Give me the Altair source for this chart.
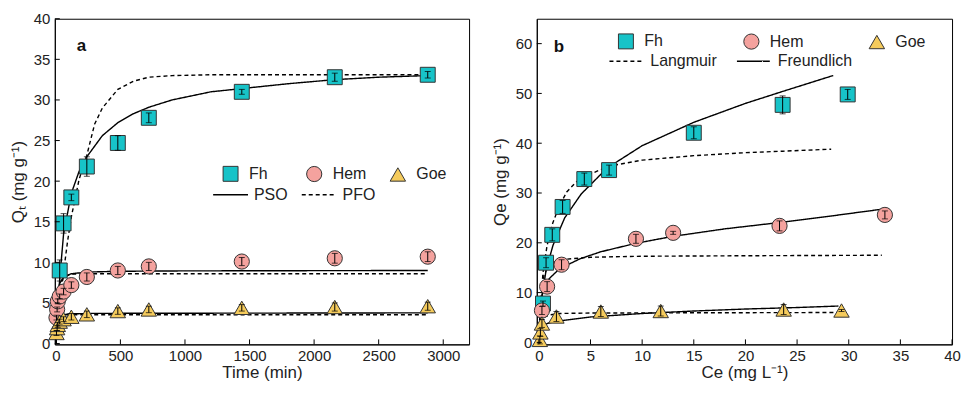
import altair as alt
import pandas as pd

# ---------------- Panel a : kinetics ----------------
fh_t = [30, 60, 120, 240, 480, 720, 1440, 2160, 2880]
fh_qt = [9.0, 14.8, 18.0, 21.8, 24.7, 27.8, 31.0, 32.8, 33.1]
fh_qt_err = [1.3, 1.2, 0.4, 1.2, 0.9, 0.6, 0.3, 0.5, 0.4]

hem_t = [5, 10, 15, 30, 60, 120, 240, 480, 720, 1440, 2160, 2880]
hem_qt = [3.2, 4.2, 5.2, 5.8, 6.4, 7.2, 8.2, 9.0, 9.5, 10.1, 10.5, 10.7]
hem_qt_err = [0.3, 0.3, 0.3, 0.3, 0.4, 0.4, 0.5, 0.5, 0.5, 0.5, 0.6, 0.6]

goe_t = [5, 10, 15, 30, 60, 120, 240, 480, 720, 1440, 2160, 2880]
goe_qt = [1.3, 1.9, 2.3, 2.7, 3.0, 3.3, 3.6, 4.0, 4.2, 4.4, 4.5, 4.6]
goe_qt_err = [0.3, 0.3, 0.3, 0.3, 0.3, 0.4, 0.4, 0.4, 0.4, 0.4, 0.5, 0.5]

pso_fh_t = [0, 15, 30, 60, 120, 180, 240, 360, 480, 600, 720, 900, 1200, 1440, 1800, 2160, 2500, 2880]
pso_fh_q = [0, 4.5, 8.0, 13.5, 18.5, 21.2, 23.0, 25.6, 27.2, 28.3, 29.1, 30.0, 31.0, 31.4, 32.0, 32.5, 32.8, 33.0]
pfo_fh_t = [0, 30, 60, 90, 120, 180, 240, 300, 360, 480, 600, 720, 900, 1200, 1800, 2880]
pfo_fh_q = [0, 4.5, 8.8, 12.5, 15.6, 20.2, 23.2, 27.0, 29.0, 31.3, 32.3, 32.8, 33.0, 33.1, 33.1, 33.1]
pso_hem_t = [0, 5, 10, 20, 30, 60, 120, 240, 480, 1000, 2880]
pso_hem_q = [0, 3.5, 5.2, 6.7, 7.4, 8.2, 8.6, 8.8, 8.9, 8.95, 9.0]
pfo_hem_t = [0, 5, 10, 20, 30, 60, 120, 240, 2880]
pfo_hem_q = [0, 2.2, 3.9, 6.0, 7.1, 8.2, 8.55, 8.6, 8.6]
pso_goe_t = [0, 5, 10, 20, 40, 100, 300, 2880]
pso_goe_q = [0, 2.0, 2.7, 3.2, 3.5, 3.65, 3.72, 3.78]
pfo_goe_t = [0, 5, 10, 20, 40, 100, 2880]
pfo_goe_q = [0, 1.7, 2.6, 3.2, 3.45, 3.55, 3.55]

# ---------------- Panel b : isotherms ----------------
fh_ce = [0.4, 0.7, 1.3, 2.3, 4.4, 6.8, 15.0, 23.6, 29.9]
fh_qe = [7.8, 16.0, 21.6, 27.2, 32.8, 34.6, 42.1, 47.7, 49.8]
fh_qe_err = [0.5, 1.0, 1.2, 1.3, 1.2, 1.0, 1.2, 1.8, 1.0]
hem_ce = [0.3, 0.8, 2.2, 9.4, 13.0, 23.3, 33.5]
hem_qe = [6.4, 11.2, 15.6, 20.8, 22.0, 23.4, 25.6]
hem_qe_err = [0.8, 1.0, 1.0, 0.9, 0.3, 1.0, 0.8]
goe_ce = [0.1, 0.15, 0.3, 1.7, 6.0, 11.8, 23.7, 29.3]
goe_qe = [0.5, 2.0, 3.8, 5.2, 6.2, 6.3, 6.6, 6.4]
goe_qe_err = [0.8, 0.8, 0.8, 1.0, 1.0, 1.0, 1.0, 0.2]

lang_fh_ce = [0.05, 0.1, 0.4, 0.8, 1.35, 2.0, 2.7, 3.6, 4.4, 6.8, 10, 15, 20, 23.6, 28.3]
lang_fh_qe = [3, 5, 14, 19.5, 24, 27.5, 30.2, 32.2, 33.3, 35.4, 36.6, 37.5, 38.1, 38.4, 38.8]
freu_fh_ce = [0.1, 0.3, 0.7, 1.37, 2.5, 4.1, 6.6, 10, 15, 20, 23.6, 28.5]
freu_fh_qe = [3.0, 9.0, 14.5, 19.5, 25.0, 29.8, 35.0, 39.5, 44.2, 48.0, 50.4, 53.6]
lang_hem_ce = [0.05, 0.2, 0.5, 1, 2, 5, 10, 20, 33.2]
lang_hem_qe = [3, 9, 13.5, 15.7, 16.6, 17.1, 17.3, 17.4, 17.5]
freu_hem_ce = [0.15, 0.3, 0.5, 1, 2, 4, 6, 9.4, 13, 18, 23, 28, 33.4]
freu_hem_qe = [7.5, 9.5, 11.0, 12.8, 14.8, 16.8, 18.2, 19.9, 21.3, 22.8, 24.0, 25.3, 26.8]
lang_goe_ce = [0.05, 0.2, 0.5, 1, 2, 5, 29]
lang_goe_qe = [1.0, 3.5, 5.0, 5.5, 5.8, 5.9, 6.0]
freu_goe_ce = [0.1, 0.5, 1, 2, 5, 10, 15, 20, 25, 29]
freu_goe_qe = [2.8, 3.6, 3.9, 4.3, 5.1, 5.8, 6.3, 6.7, 7.0, 7.3]

minerals = ["Fh", "Hem", "Goe"]
fills = ["#17C3C8", "#F4A29E", "#F5CB5C"]
shapes = ["square", "circle", "triangle-up"]
sizes = [225, 240, 400]

a_xticks = [0, 500, 1000, 1500, 2000, 2500, 3000]
a_yticks = [0, 5, 10, 15, 20, 25, 30, 35, 40]
b_xticks = [0, 5, 10, 15, 20, 25, 30, 35, 40]
b_yticks = [0, 10, 20, 30, 40, 50, 60]

FONT = "Liberation Sans"
SOLID = [1, 0]
DASH = [4, 3]


def points_df(series):
    rows = []
    for name, xs, ys, es in series:
        for x, y, e in zip(xs, ys, es):
            rows.append({"mineral": name, "x": x, "y": y, "lo": y - e, "hi": y + e})
    return pd.DataFrame(rows)


def lines_df(series):
    rows = []
    for name, model, xs, ys in series:
        for i, (x, y) in enumerate(zip(xs, ys)):
            rows.append({"mineral": name, "model": model, "x": x, "y": y, "i": i})
    return pd.DataFrame(rows)


def panel(pts, lns, xdom, ydom, xticks, yticks, xtitle, ytitle, models, dashes, W, H,
          leg1, leg2, label, labpos):
    xs = alt.Scale(domain=xdom, nice=False, zero=False)
    ys = alt.Scale(domain=ydom, nice=False, zero=False)
    xa = alt.Axis(values=xticks, ticks=False, grid=False, labelPadding=4, format="d",
                  title=xtitle, titlePadding=1, domainColor="black", labelFlush=False,
                  labelOverlap=False, labelFontSize=15, titleFontSize=17,
                  titleFontWeight="normal", labelFont=FONT, titleFont=FONT,
                  labelColor="#222", titleColor="#222")
    ya = alt.Axis(values=yticks, ticks=False, grid=False, labelPadding=5, format="d",
                  title=ytitle, titlePadding=6, domainColor="black", labelOverlap=False,
                  labelFontSize=15, titleFontSize=17, titleFontWeight="normal",
                  labelFont=FONT, titleFont=FONT, labelColor="#222", titleColor="#222")

    def X(f):
        return alt.X(f, type="quantitative", scale=xs, axis=xa, title=xtitle)

    def Y(f):
        return alt.Y(f, type="quantitative", scale=ys, axis=ya, title=ytitle)

    base_l = alt.Chart(lns)
    lines = base_l.mark_line(color="black", strokeWidth=1.4).encode(
        x=X("x"), y=Y("y"), order="i:Q", detail="mineral:N",
        strokeDash=alt.StrokeDash(
            "model:N",
            scale=alt.Scale(domain=models, range=dashes),
            legend=alt.Legend(
                title=None, orient="none", legendX=leg2[0], legendY=leg2[1],
                direction="horizontal", columns=2, gridAlign="all",
                columnPadding=leg2[2], symbolType="stroke", symbolSize=leg2[3],
                symbolStrokeWidth=1.4, symbolStrokeColor="black", labelOffset=leg2[4],
                labelFontSize=16, labelFont=FONT, labelColor="#222", padding=0,
            ),
        ),
    )
    base_p = alt.Chart(pts)
    points = base_p.mark_point(filled=True, stroke="#333", strokeWidth=1,
                               opacity=1, fillOpacity=1).encode(
        x=X("x"), y=Y("y"),
        fill=alt.Fill("mineral:N", scale=alt.Scale(domain=minerals, range=fills),
                      legend=alt.Legend(
                          title=None, orient="none", legendX=leg1[0], legendY=leg1[1],
                          direction="horizontal", columns=3, gridAlign="all",
                          columnPadding=leg1[2], labelOffset=10, labelFontSize=16,
                          labelFont=FONT, labelColor="#222", symbolStrokeColor="#333",
                          symbolStrokeWidth=1, padding=0, symbolOpacity=1,
                      )),
        shape=alt.Shape("mineral:N", scale=alt.Scale(domain=minerals, range=shapes)),
        size=alt.Size("mineral:N", scale=alt.Scale(domain=minerals, range=sizes)),
    )
    err = base_p.mark_rule(color="black", strokeWidth=1).encode(
        x=X("x"), y=Y("lo"), y2="hi")
    cap_lo = base_p.mark_tick(color="black", orient="horizontal", size=6,
                              thickness=1).encode(x=X("x"), y=Y("lo"))
    cap_hi = base_p.mark_tick(color="black", orient="horizontal", size=6,
                              thickness=1).encode(x=X("x"), y=Y("hi"))
    xt = alt.Chart(pd.DataFrame({"x": xticks})).mark_rule(
        color="black", strokeWidth=1).encode(
        x=X("x"), y=alt.value(H), y2=alt.value(H - 5))
    yt = alt.Chart(pd.DataFrame({"y": yticks})).mark_rule(
        color="black", strokeWidth=1).encode(
        y=Y("y"), x=alt.value(0), x2=alt.value(5))
    lab = alt.Chart(pd.DataFrame({"t": [label]})).mark_text(
        fontWeight="bold", fontSize=17, font=FONT, align="left",
        baseline="alphabetic", color="#111").encode(
        text="t:N", x=alt.value(labpos[0]), y=alt.value(labpos[1]))
    return alt.layer(lines, points, err, cap_lo, cap_hi, xt, yt, lab).properties(
        width=W, height=H)


pts_a = points_df([("Fh", fh_t, fh_qt, fh_qt_err),
                   ("Hem", hem_t, hem_qt, hem_qt_err),
                   ("Goe", goe_t, goe_qt, goe_qt_err)])
lns_a = lines_df([("Fh", "PSO", pso_fh_t, pso_fh_q), ("Fh", "PFO", pfo_fh_t, pfo_fh_q),
                  ("Hem", "PSO", pso_hem_t, pso_hem_q), ("Hem", "PFO", pfo_hem_t, pfo_hem_q),
                  ("Goe", "PSO", pso_goe_t, pso_goe_q), ("Goe", "PFO", pfo_goe_t, pfo_goe_q)])
pts_b = points_df([("Fh", fh_ce, fh_qe, fh_qe_err),
                   ("Hem", hem_ce, hem_qe, hem_qe_err),
                   ("Goe", goe_ce, goe_qe, goe_qe_err)])
lns_b = lines_df([("Fh", "Langmuir", lang_fh_ce, lang_fh_qe),
                  ("Fh", "Freundlich", freu_fh_ce, freu_fh_qe),
                  ("Hem", "Langmuir", lang_hem_ce, lang_hem_qe),
                  ("Hem", "Freundlich", freu_hem_ce, freu_hem_qe),
                  ("Goe", "Langmuir", lang_goe_ce, lang_goe_qe),
                  ("Goe", "Freundlich", freu_goe_ce, freu_goe_qe)])

left = panel(pts_a, lns_a, [-8, 3200], [-0.1, 40], a_xticks, a_yticks,
             "Time (min)", "Qₜ (mg g⁻¹)", ["PSO", "PFO"], [SOLID, DASH], 416, 327,
             (168, 147, 21), (158, 158, 11, 1225, 5), "a", (22, 32))
right = panel(pts_b, lns_b, [-0.2, 40], [-0.4, 65], b_xticks, b_yticks,
              "Ce (mg L⁻¹)", "Qe (mg g⁻¹)", ["Langmuir", "Freundlich"], [DASH, SOLID],
              417, 327, (81, 14, 63), (72, 25, 9, 1089, 7), "b", (17, 33))

chart = alt.hconcat(left, right, spacing=68, bounds="flush").resolve_scale(
    fill="independent", shape="independent", size="independent",
    strokeDash="independent", x="independent", y="independent"
).resolve_legend(
    fill="independent", shape="independent", size="independent",
    strokeDash="independent"
).properties(
    padding={"left": 0, "top": 2, "right": 0, "bottom": 0},
    background="white"
).configure_view(
    stroke="black", strokeWidth=1
).configure_axis(
    labelFont=FONT, titleFont=FONT, labelFontSize=15, titleFontSize=17,
    labelColor="#222", titleColor="#222", titleFontWeight="normal",
    domainWidth=1
)

chart.save("out.html", embed_options={"renderer": "svg", "actions": False})
